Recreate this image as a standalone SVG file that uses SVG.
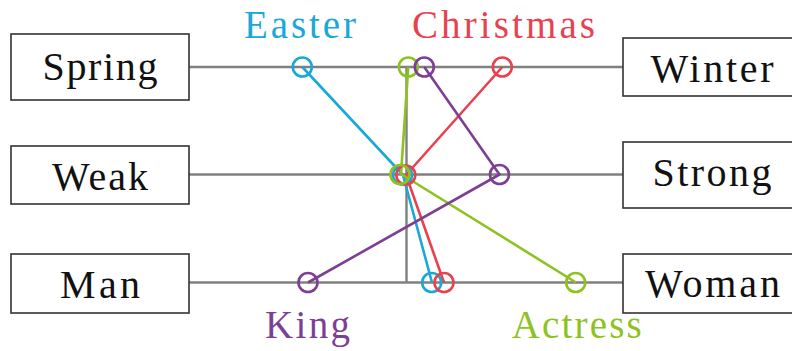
<svg xmlns="http://www.w3.org/2000/svg" width="792" height="351" viewBox="0 0 792 351">
<style>
.box{fill:#fff;stroke:#333;stroke-width:1.6}
.lbl{font-size:40px;fill:#111;text-anchor:middle}
.axis{stroke:#808080;stroke-width:2.4;fill:none}
.w{font-size:39px;text-anchor:middle}
.c{fill:none;stroke-width:2.6}
.ln{fill:none;stroke-width:2.6;stroke-linejoin:round}
.blue{stroke:#1AA8D8}.red{stroke:#E8424F}.green{stroke:#8DC21F}.purple{stroke:#7D3F95}
</style>
<g id="axes">
<line class="axis" x1="189" y1="67" x2="623" y2="67"/>
<line class="axis" x1="189" y1="174.5" x2="623" y2="174.5"/>
<line class="axis" x1="189" y1="282.5" x2="623" y2="282.5"/>
<line class="axis" x1="406.5" y1="67" x2="406.5" y2="282.5"/>
</g>
<g font-family="'Liberation Serif', 'DejaVu Serif', 'Times New Roman', serif">
<g id="node-spring"><rect class="box" x="11" y="34" width="178" height="66"/><text class="lbl" x="100" y="80" textLength="115">Spring</text></g>
<g id="node-weak"><rect class="box" x="11" y="146" width="178" height="58"/><text class="lbl" x="100" y="190" textLength="96">Weak</text></g>
<g id="node-man"><rect class="box" x="11" y="254" width="178" height="59"/><text class="lbl" x="100" y="297.5" textLength="80">Man</text></g>
<g id="node-winter"><rect class="box" x="623" y="38" width="175" height="58"/><text class="lbl" x="712" y="81.5" textLength="123">Winter</text></g>
<g id="node-strong"><rect class="box" x="623" y="142" width="175" height="66"/><text class="lbl" x="712" y="186" textLength="119">Strong</text></g>
<g id="node-woman"><rect class="box" x="623" y="254" width="175" height="59"/><text class="lbl" x="712.5" y="297" textLength="135">Woman</text></g>
</g>
<g id="connectors">
<polyline class="ln blue" points="302.3,67 403,175 432,282.5"/>
<polyline class="ln red" points="502.3,67 406,175 444,282.5"/>
<polyline class="ln green" points="408.3,67 401,174 576,282.5"/>
<polyline class="ln purple" points="424.3,67 499.5,174.5 308,282.5"/>
</g>
<g id="markers">
<circle class="c blue" cx="302.3" cy="67" r="9.5"/>
<circle class="c green" cx="408.3" cy="67" r="9.5"/>
<circle class="c purple" cx="424.3" cy="67" r="9.5"/>
<circle class="c red" cx="502.3" cy="67" r="9.5"/>
<circle class="c blue" cx="402.5" cy="175" r="9.5"/>
<circle class="c red" cx="405.8" cy="175" r="9.5"/>
<circle class="c green" cx="400" cy="174.5" r="9.5"/>
<circle class="c purple" cx="499.5" cy="174.5" r="9.5"/>
<circle class="c purple" cx="308" cy="282.5" r="9.5"/>
<circle class="c blue" cx="431.7" cy="282.5" r="9.5"/>
<circle class="c red" cx="444" cy="282.5" r="9.5"/>
<circle class="c green" cx="575.7" cy="282.5" r="9.5"/>
</g>
<g id="labels" font-family="'Liberation Serif', 'DejaVu Serif', 'Times New Roman', serif">
<text class="w" x="300" y="38" fill="#1AA8D8" textLength="112">Easter</text>
<text class="w" x="503.5" y="38" fill="#E8424F" textLength="183">Christmas</text>
<text class="w" x="307.5" y="338" fill="#7D3F95" textLength="85">King</text>
<text class="w" x="576.7" y="338" fill="#8DC21F" textLength="130">Actress</text>
</g>
</svg>
